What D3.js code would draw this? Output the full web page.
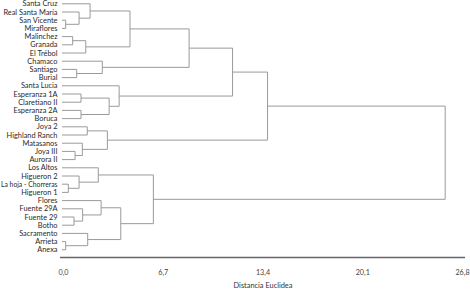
<!DOCTYPE html>
<html><head><meta charset="utf-8">
<script src="https://cdn.jsdelivr.net/npm/d3@7"></script>
<style>
html,body{margin:0;padding:0;background:#fff;}
svg{display:block;}
</style></head>
<body>
<svg id="chart" width="470" height="289"></svg>
<script>
const leaves = ["Santa Cruz","Real Santa María","San Vicente","Miraflores","Malinchez","Granada","El Trébol","Chamaco","Santiago","Burial","Santa Lucia","Esperanza 1A","Claretiano II","Esperanza 2A","Boruca","Joya 2","Highland Ranch","Matasanos","Joya III","Aurora II","Los Altos","Higueron 2","La hoja - Chorreras","Higueron 1","Flores","Fuente 29A","Fuente 29","Botho","Sacramento","Arrieta","Anexa"];
// linkage: [childA, childB, height]; new cluster ids start at leaves.length
const merges = [
 [2,3,0.18],[29,30,0.18],[22,23,0.36],[4,5,0.65],[26,27,0.74],[18,19,0.81],[8,9,0.92],
 [1,31,1.08],[21,33,1.08],[11,12,1.21],[13,14,1.21],[17,36,1.30],[25,35,1.32],[6,34,1.53],
 [15,16,1.63],[28,32,1.66],[0,38,1.82],[20,39,2.37],[24,43,2.56],[7,37,2.64],[45,42,2.98],
 [40,41,3.10],[10,52,3.77],[49,46,3.88],[47,44,4.50],[48,54,6.07],[55,50,8.47],[57,53,11.39],
 [58,51,13.74],[59,56,25.67]
];
const tickValues = [0,6.7,13.4,20.1,26.8];
const axisTitle = "Distancia Euclidea";

const FONT = "Lato, 'Open Sans', sans-serif";
const svg = d3.select("#chart");
const x = d3.scaleLinear().domain([0,26.8]).range([63,462]);
const y = d3.scalePoint().domain(leaves).range([3.8,249.8]);

const nodes = leaves.map(l => ({x: x(0) - 1, y: y(l)}));
merges.forEach(([a,b,h]) => {
  const A = nodes[a], B = nodes[b];
  svg.append("path")
    .attr("d", `M${A.x},${A.y}H${x(h)}V${B.y}H${B.x}`)
    .attr("fill","none").attr("stroke","#9a9a9a").attr("stroke-width",1);
  nodes.push({x: x(h), y: (A.y+B.y)/2});
});

const labelX = 57.5, maxW = 56.5;
svg.append("g").selectAll("text").data(leaves).join("text")
  .attr("x",labelX).attr("y",d=>y(d)).attr("dy","0.35em")
  .attr("text-anchor","end")
  .attr("font-family",FONT).attr("font-size",7.4)
  .attr("fill","#2a2a2a").text(d=>d)
  .each(function(){
    if (this.getComputedTextLength() > maxW) {
      d3.select(this).attr("textLength",maxW).attr("lengthAdjust","spacingAndGlyphs");
    }
  });

const axis = d3.axisBottom(x).tickValues(tickValues).tickSize(0).tickPadding(12)
  .tickFormat(d => d3.format(".1f")(d).replace(".",","));
const g = svg.append("g").attr("transform","translate(0,257.5)").call(axis);
g.select(".domain").attr("stroke","#666").attr("stroke-width",1.6).attr("d","M60,0H465");
g.selectAll("text").attr("font-family",FONT).attr("font-size",7.2).attr("fill","#444");

svg.append("text").attr("x",263).attr("y",285).attr("dy","0.35em")
  .attr("text-anchor","middle").attr("font-family",FONT)
  .attr("font-size",7.4).attr("fill","#333").text(axisTitle);
</script>
</body></html>
